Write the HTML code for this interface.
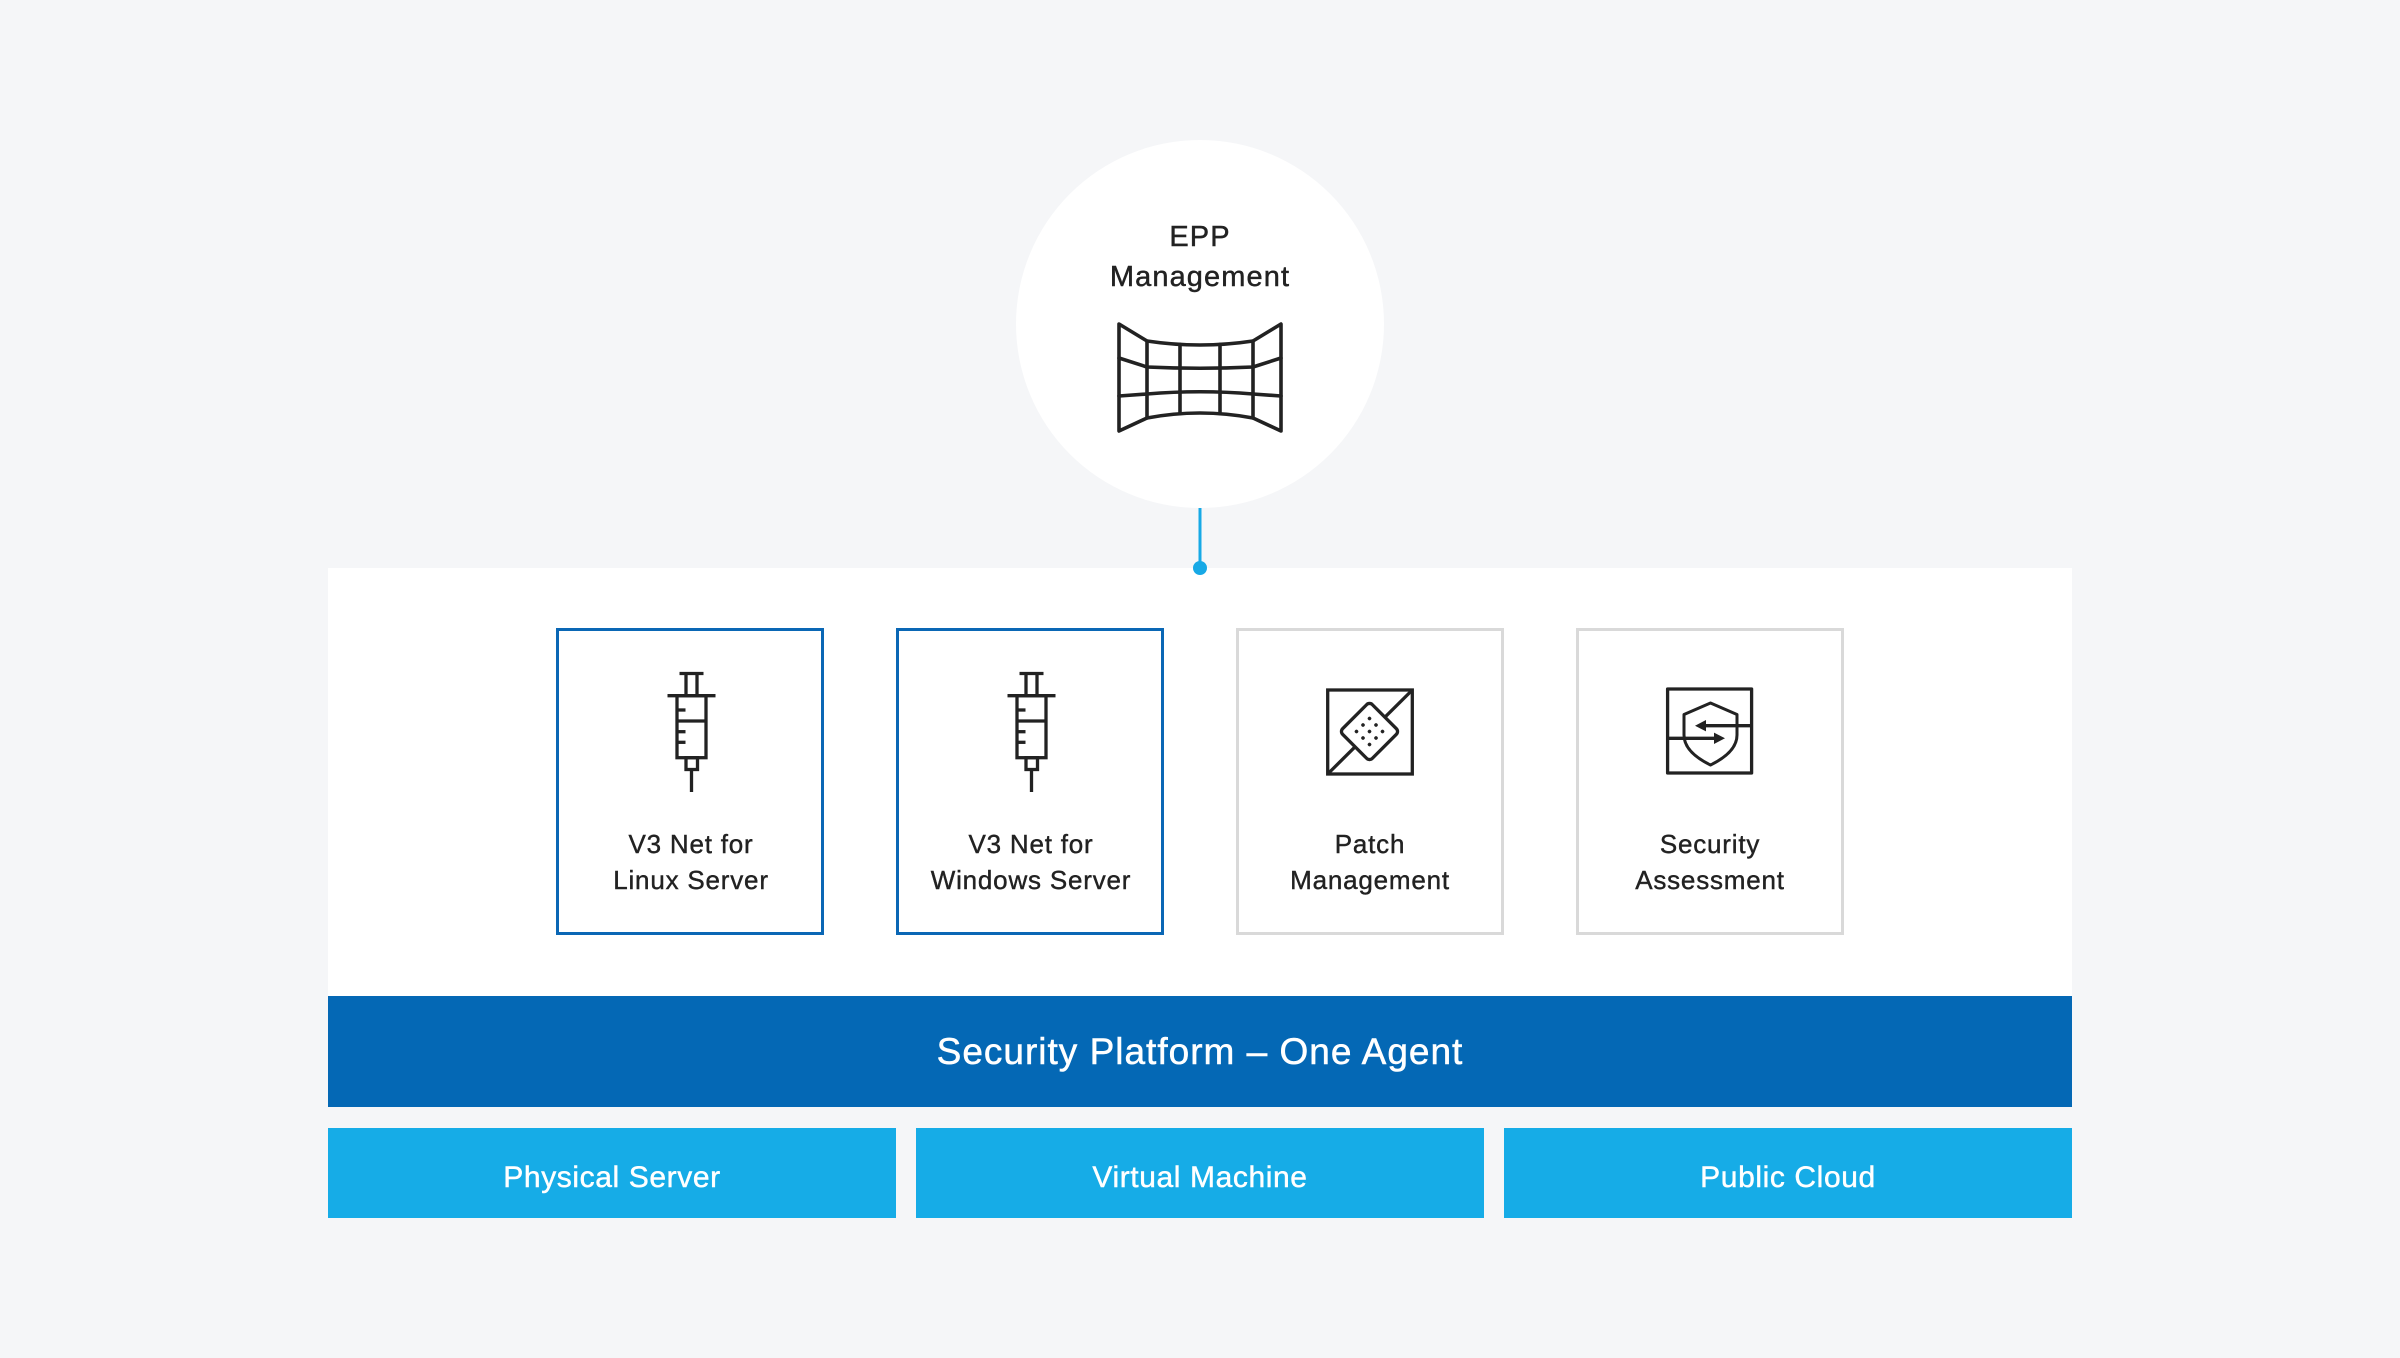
<!DOCTYPE html>
<html>
<head>
<meta charset="utf-8">
<style>
  html, body { margin: 0; padding: 0; background: #f5f6f8; }
  body { width: 2400px; height: 1358px; overflow: hidden; }
  svg { display: block; }
  text { font-family: "Liberation Sans", "DejaVu Sans", sans-serif; }
</style>
</head>
<body>
<svg width="2400" height="1358" viewBox="0 0 2400 1358" xmlns="http://www.w3.org/2000/svg">
  <rect x="0" y="0" width="2400" height="1358" fill="#f5f6f8"/>

  <!-- EPP circle -->
  <circle cx="1200" cy="324" r="184" fill="#ffffff"/>
  <g font-size="29" fill="#222" stroke="#222" stroke-width="0.45" text-anchor="middle" letter-spacing="1.1">
    <text x="1200" y="246">EPP</text>
    <text x="1200" y="286">Management</text>
  </g>

  <!-- monitor wall icon -->
  <g fill="none" stroke="#222" stroke-width="3.6" stroke-linejoin="round" stroke-linecap="round">
    <path d="M1119,324 L1147,341 Q1200,349 1253,341 L1281,324 L1281,431 L1253,418 Q1200,408 1147,418 L1119,431 Z"/>
    <path d="M1119,358 L1147,367 Q1200,369.5 1253,367 L1281,358"/>
    <path d="M1119,396 L1147,394 Q1200,389.5 1253,394 L1281,396"/>
    <line x1="1147" y1="341" x2="1147" y2="418"/>
    <line x1="1180" y1="344.4" x2="1180" y2="413.7"/>
    <line x1="1220" y1="344.4" x2="1220" y2="413.7"/>
    <line x1="1253" y1="341" x2="1253" y2="418"/>
  </g>

  <!-- connector -->
  <line x1="1200" y1="508" x2="1200" y2="568" stroke="#17a9e6" stroke-width="3"/>

  <!-- white panel -->
  <rect x="328" y="568" width="1744" height="428" fill="#ffffff"/>
  <circle cx="1200" cy="568" r="7" fill="#17a9e6"/>

  <!-- cards -->
  <rect x="557.5" y="629.5" width="265" height="304" fill="#fff" stroke="#0a67b5" stroke-width="3"/>
  <rect x="897.5" y="629.5" width="265" height="304" fill="#fff" stroke="#0a67b5" stroke-width="3"/>
  <rect x="1237.5" y="629.5" width="265" height="304" fill="#fff" stroke="#d9d9d9" stroke-width="3"/>
  <rect x="1577.5" y="629.5" width="265" height="304" fill="#fff" stroke="#d9d9d9" stroke-width="3"/>

  <!-- syringe icons -->
  <defs>
    <g id="syr" fill="none" stroke="#222" stroke-width="3.3">
      <line x1="-12" y1="673.5" x2="12" y2="673.5"/>
      <line x1="-5.5" y1="673.5" x2="-5.5" y2="696"/>
      <line x1="5.5" y1="673.5" x2="5.5" y2="696"/>
      <line x1="-24" y1="695.7" x2="24" y2="695.7"/>
      <rect x="-14.5" y="695.7" width="29" height="62"/>
      <line x1="-14.5" y1="721" x2="14.5" y2="721"/>
      <line x1="-14.5" y1="710" x2="-6" y2="710"/>
      <line x1="-14.5" y1="731.7" x2="-6" y2="731.7"/>
      <line x1="-14.5" y1="742.3" x2="-6" y2="742.3"/>
      <rect x="-5.5" y="757.7" width="11.5" height="11.8"/>
      <line x1="0" y1="769.5" x2="0" y2="792"/>
    </g>
  </defs>
  <use href="#syr" transform="translate(691.5,0)"/>
  <use href="#syr" transform="translate(1031.5,0)"/>

  <!-- patch icon -->
  <g fill="none" stroke="#222" stroke-width="3.3">
    <rect x="1327.7" y="690" width="84.6" height="84"/>
    <line x1="1327.7" y1="774" x2="1412.3" y2="690"/>
    <rect x="-21" y="-21" width="42" height="42" rx="4" fill="#fff" transform="translate(1369.5,731.5) rotate(45)"/>
  </g>
  <g fill="#222" transform="translate(1369.5,731.5) rotate(45)">
    <circle cx="-9.2" cy="-9.2" r="1.8"/><circle cx="0" cy="-9.2" r="1.8"/><circle cx="9.2" cy="-9.2" r="1.8"/>
    <circle cx="-9.2" cy="0" r="1.8"/><circle cx="0" cy="0" r="1.8"/><circle cx="9.2" cy="0" r="1.8"/>
    <circle cx="-9.2" cy="9.2" r="1.8"/><circle cx="0" cy="9.2" r="1.8"/><circle cx="9.2" cy="9.2" r="1.8"/>
  </g>

  <!-- security assessment icon -->
  <g fill="none" stroke="#222" stroke-width="3.3" stroke-linejoin="round">
    <rect x="1667.6" y="689" width="84" height="84"/>
    <path d="M1710.5,703 L1737,714.5 L1737,735 Q1737,752 1710.5,765 Q1684,752 1684,735 L1684,714.5 Z" stroke-width="3"/>
    <line x1="1751.6" y1="725.7" x2="1704" y2="725.7"/>
    <line x1="1667.6" y1="738.3" x2="1716" y2="738.3"/>
  </g>
  <polygon points="1695,725.7 1706,720 1706,731.4" fill="#222"/>
  <polygon points="1725,738.3 1714,732.6 1714,744" fill="#222"/>

  <!-- card labels -->
  <g font-size="26" fill="#222" stroke="#222" stroke-width="0.4" text-anchor="middle" letter-spacing="0.8">
    <text x="691" y="853">V3 Net for</text>
    <text x="691" y="889">Linux Server</text>
    <text x="1031" y="853">V3 Net for</text>
    <text x="1031" y="889">Windows Server</text>
    <text x="1370" y="853">Patch</text>
    <text x="1370" y="889">Management</text>
    <text x="1710" y="853">Security</text>
    <text x="1710" y="889">Assessment</text>
  </g>

  <!-- security platform bar -->
  <rect x="328" y="996" width="1744" height="111" fill="#0468b5"/>
  <text x="1200" y="1064" font-size="37" fill="#ffffff" stroke="#ffffff" stroke-width="0.5" text-anchor="middle" letter-spacing="1">Security Platform – One Agent</text>

  <!-- bottom boxes -->
  <rect x="328" y="1128" width="568" height="90" fill="#16ace7"/>
  <rect x="916" y="1128" width="568" height="90" fill="#16ace7"/>
  <rect x="1504" y="1128" width="568" height="90" fill="#16ace7"/>
  <g font-size="30" fill="#ffffff" stroke="#ffffff" stroke-width="0.45" text-anchor="middle" letter-spacing="0.6">
    <text x="612" y="1187">Physical Server</text>
    <text x="1200" y="1187">Virtual Machine</text>
    <text x="1788" y="1187">Public Cloud</text>
  </g>
</svg>
</body>
</html>
